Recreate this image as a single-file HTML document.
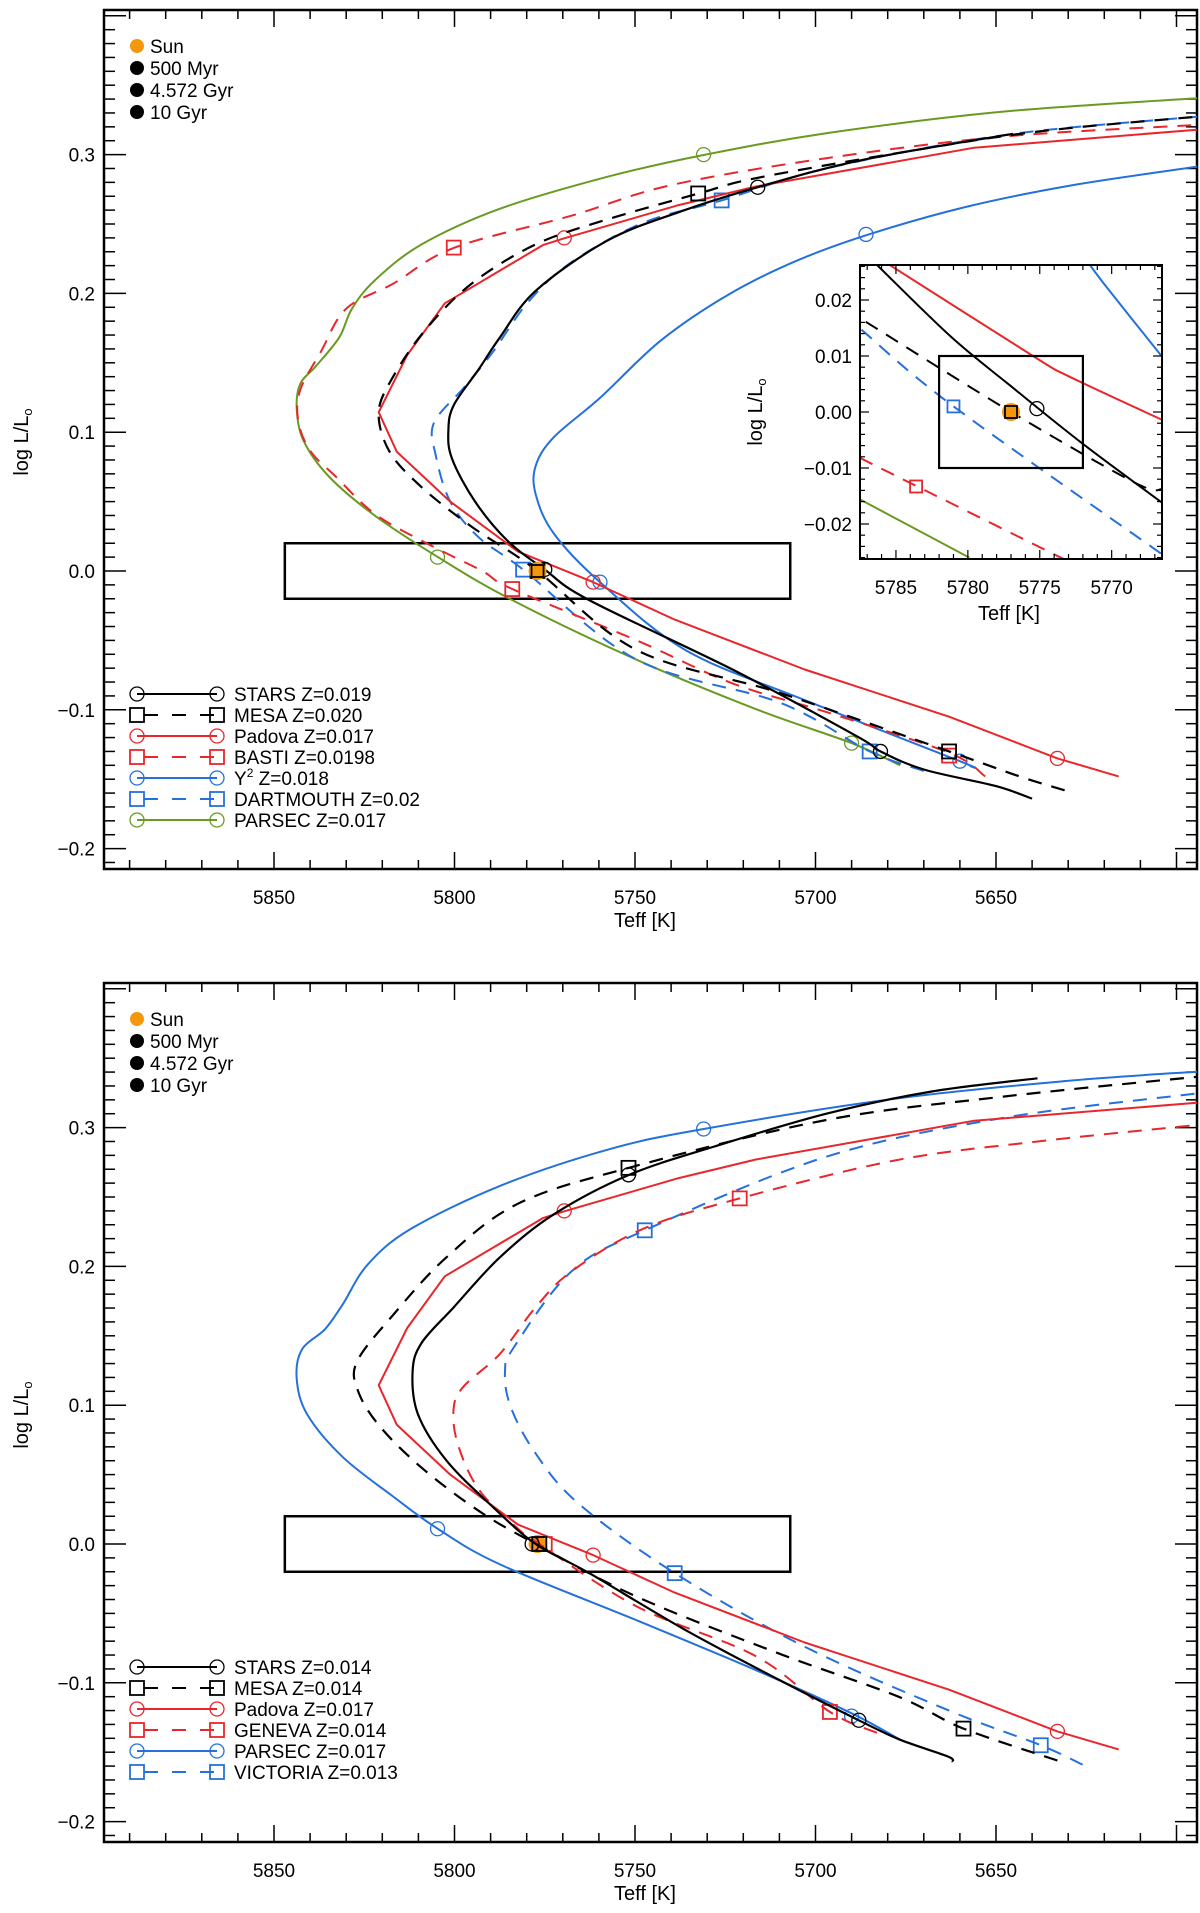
<!DOCTYPE html>
<html><head><meta charset="utf-8">
<style>
html,body{margin:0;padding:0;background:#fff;}
svg{display:block;font-family:"Liberation Sans",sans-serif;}
</style></head>
<body>
<svg id="fig" width="1200" height="1913" viewBox="0 0 1200 1913" xmlns="http://www.w3.org/2000/svg">
<defs>
<clipPath id="clipTop"><rect x="104" y="10" width="1093" height="859"/></clipPath>
<clipPath id="clipBot"><rect x="104" y="983" width="1093" height="859"/></clipPath>
<clipPath id="clipIn"><rect x="860" y="265" width="302" height="294"/></clipPath>
</defs>
</svg>
<script>
// ---------- DATA: top panel ----------
const starsTopT=[5640,5650,5670,5682,5688.6,5723,5762.7,5775,5785.4,5794.3,5800.7,5801.7,5800.2,5793.3,5787.4,5777.5,5757.7,5737.9,5716,5687.3,5645.3];
const starsTopL=[-0.164,-0.155,-0.143,-0.130,-0.119,-0.071,-0.021,0.001,0.022,0.050,0.081,0.1015,0.1195,0.1453,0.1684,0.2019,0.238,0.2585,0.2765,0.296,0.315];
const mesaTopT=[5631,5643.5,5663,5709.7,5749.5,5777.5,5795.3,5809.1,5818,5821,5817,5808.1,5795.3,5777.5,5757.7,5732.5,5716.5,5677.5,5638.5,5594];
const mesaTopL=[-0.158,-0.148,-0.130,-0.088,-0.057,0.001,0.032,0.0604,0.086,0.1144,0.140,0.1736,0.207,0.2353,0.2533,0.2719,0.283,0.301,0.3166,0.3274];
const padovaT=[5616,5633,5663,5703,5739,5761.6,5782.4,5801.2,5816,5821,5813.1,5802.7,5775.5,5769.6,5737.9,5716.5,5656,5594];
const padovaL=[-0.148,-0.135,-0.105,-0.071,-0.035,-0.008,0.014,0.050,0.086,0.1144,0.1556,0.1929,0.2348,0.2397,0.2636,0.277,0.305,0.318];
const bastiT=[5653,5663,5696.5,5723,5749.5,5784,5792.3,5807,5822,5832.9,5839.8,5843.2,5842.8,5837,5830,5817,5800.2,5767.6,5740,5697,5648,5594];
const bastiL=[-0.148,-0.131,-0.102,-0.081,-0.050,-0.013,0.0,0.019,0.041,0.0681,0.086,0.107,0.130,0.158,0.189,0.207,0.2328,0.256,0.278,0.2974,0.313,0.3214];
const y2T=[5657,5660,5703,5736,5759.7,5772.5,5777.5,5777.5,5772.5,5759.7,5742.9,5724,5704.8,5684.3,5658,5628.7,5594];
const y2L=[-0.141,-0.137,-0.093,-0.057,-0.008,0.027,0.0552,0.0758,0.0964,0.1247,0.1659,0.1993,0.224,0.2433,0.2625,0.278,0.2914];
const dartT=[5670,5685,5709.7,5749.5,5781,5793.3,5801.2,5805.2,5805.7,5797.3,5789.3,5779.5,5767.6,5747.8,5726,5697,5648,5594];
const dartL=[-0.144,-0.130,-0.095,-0.064,0.001,0.0243,0.050,0.0835,0.1067,0.1324,0.158,0.1941,0.2225,0.2508,0.267,0.29,0.314,0.3274];
const parsecTopT=[5676.6,5690,5716,5749.5,5784,5804.7,5822,5834.8,5841.8,5843.7,5842.7,5838.3,5831.9,5828.4,5822,5809.1,5787.4,5757.7,5731,5697,5648,5594];
const parsecTopL=[-0.140,-0.124,-0.100,-0.064,-0.021,0.0102,0.0398,0.0681,0.0938,0.117,0.135,0.1478,0.1684,0.189,0.2096,0.2353,0.261,0.284,0.2997,0.3154,0.331,0.3406];
// markers top (500 Myr, 4.572 Gyr, 10 Gyr)
const starsTopMT=[5682,5775,5716], starsTopML=[-0.130,0.0012,0.2765];
const mesaTopMT=[5663,5777,5732.5], mesaTopML=[-0.130,0.0,0.272];
const padovaMT=[5633,5761.6,5769.6], padovaML=[-0.135,-0.008,0.240];
const bastiMT=[5663,5784,5800.2], bastiML=[-0.133,-0.013,0.233];
const y2MT=[5660,5759.7,5686], y2ML=[-0.137,-0.008,0.2425];
const dartMT=[5685,5781,5726], dartML=[-0.130,0.001,0.267];
const parsecTopMT=[5690,5804.7,5731], parsecTopML=[-0.124,0.010,0.300];
// ---------- DATA: bottom panel ----------
const starsBotT=[5662,5663.4,5676.6,5688,5710,5736,5762.7,5777.5,5789.3,5802.2,5810.1,5811.6,5809.1,5800.2,5787.4,5772.5,5751.8,5728,5697,5667.8,5638.5];
const starsBotL=[-0.157,-0.153,-0.141,-0.127,-0.098,-0.062,-0.021,0.0,0.0265,0.06,0.0934,0.1243,0.1449,0.1706,0.2066,0.2375,0.2658,0.2864,0.3100,0.326,0.3355];
const mesaBotT=[5633,5659,5677,5710,5749.5,5777.5,5793.3,5809.1,5821,5826.9,5826.9,5817,5802.2,5782.4,5751.8,5697,5648,5594];
const mesaBotL=[-0.156,-0.133,-0.110,-0.079,-0.038,0.0,0.0239,0.055,0.0857,0.1115,0.132,0.165,0.2066,0.2452,0.271,0.3055,0.3223,0.3367];
const genevaT=[5683,5696,5716.4,5749.5,5776.5,5782.4,5793.3,5799.2,5800.2,5797.3,5787.4,5777.5,5767.6,5747.8,5721,5677.5,5638.5,5594];
const genevaL=[-0.136,-0.121,-0.081,-0.045,0.0,0.011,0.0394,0.073,0.0986,0.114,0.137,0.1706,0.1964,0.227,0.249,0.2766,0.29,0.302];
const parsecBotT=[5676.6,5690,5716.4,5749.5,5787.4,5804.7,5817,5830.9,5840.8,5843.7,5842.3,5835.8,5830.9,5824,5812.1,5787.4,5757.7,5731,5677.5,5628.7,5594];
const parsecBotL=[-0.141,-0.122,-0.091,-0.055,-0.0147,0.0111,0.0342,0.0625,0.0934,0.119,0.140,0.155,0.173,0.2015,0.227,0.258,0.284,0.299,0.321,0.334,0.3403];
const victT=[5626,5637.6,5663,5703,5739,5765.6,5777.5,5784.4,5786,5783.4,5767.6,5747.3,5697,5648,5594];
const victL=[-0.159,-0.145,-0.12,-0.074,-0.021,0.029,0.0651,0.0986,0.124,0.1423,0.1964,0.226,0.279,0.307,0.3247];
const starsBotMT=[5688,5778.5,5751.8], starsBotML=[-0.127,0.0,0.266];
const mesaBotMT=[5659,5776.5,5751.8], mesaBotML=[-0.133,0.0,0.271];
const genevaMT=[5696,5775,5721], genevaML=[-0.121,0.0,0.249];
const parsecBotMT=[5690,5804.7,5731], parsecBotML=[-0.124,0.011,0.299];
const victMT=[5637.6,5739,5747.3], victML=[-0.145,-0.021,0.226];
// ---------- DATA: inset ----------
const inStarsT=[5786.3,5781.2,5777,5772.1,5766.5], inStarsL=[0.0262,0.0135,0.0046,-0.0055,-0.0162];
const inPadovaT=[5785.4,5775.4,5773,5766.5], inPadovaL=[0.0262,0.0099,0.0064,-0.0014];
const inMesaT=[5787.1,5777,5768.4,5766.5], inMesaL=[0.0161,0,-0.0126,-0.0138];
const inDartT=[5787.4,5781,5766.5], inDartL=[0.0147,0.001,-0.0254];
const inBastiT=[5787.5,5783.6,5773.3], inBastiL=[-0.0082,-0.0132,-0.0263];
const inParsecT=[5787.5,5779.9], inParsecL=[-0.0156,-0.026];
const inY2T=[5771.5,5770.2,5766.5], inY2L=[0.0262,0.0218,0.0099];
const sunT=5777, sunL=0.0;
const xTickVals=[5850,5800,5750,5700,5650];
const yTickVals=[0.3,0.2,0.1,0.0,-0.1,-0.2];
const inXTickVals=[5785,5780,5775,5770];
const inYTickVals=[0.02,0.01,0.0,-0.01,-0.02];

const RED='#e8262b', BLUE='#2470dc', GREEN='#6a9a22', ORANGE='#f5960f';
const NS='http://www.w3.org/2000/svg';
const svg=document.getElementById('fig');
function X(t){return 274+(5850-t)*3.61;}
function makeY(off){return v=>571+off-v*1388;}
function IX(t){return 860+(5787.5-t)*(302/21);}
function IY(v){return 412-v*5600;}
function el(tag,attrs,parent){const e=document.createElementNS(NS,tag);for(const k in attrs)e.setAttribute(k,attrs[k]);(parent||svg).appendChild(e);return e;}
function path(T,L,fx,fy,color,dash,w,parent,name,linear){
  const P=T.map((t,i)=>[fx(t),fy(L[i])]);
  let d='M'+P[0][0].toFixed(1)+','+P[0][1].toFixed(1);
  for(let i=0;i<P.length-1;i++){
    if(linear){d+='L'+P[i+1][0].toFixed(1)+','+P[i+1][1].toFixed(1);continue;}
    const p0=P[Math.max(0,i-1)],p1=P[i],p2=P[i+1],p3=P[Math.min(P.length-1,i+2)];
    const c1=[p1[0]+(p2[0]-p0[0])/6,p1[1]+(p2[1]-p0[1])/6];
    const c2=[p2[0]-(p3[0]-p1[0])/6,p2[1]-(p3[1]-p1[1])/6];
    d+='C'+c1[0].toFixed(1)+','+c1[1].toFixed(1)+' '+c2[0].toFixed(1)+','+c2[1].toFixed(1)+' '+p2[0].toFixed(1)+','+p2[1].toFixed(1);
  }
  const p=el('path',{d:d,fill:'none',stroke:color,'stroke-width':w||2,'stroke-linejoin':'round'},parent);
  if(dash)p.setAttribute('stroke-dasharray',dash);
  
  
  return p;
}
function marker(x,y,type,color,parent,name,r){
  r=r||7;let m;
  if(type==='c')m=el('circle',{cx:x,cy:y,r:r,fill:'none',stroke:color,'stroke-width':1.3},parent);
  else m=el('rect',{x:x-r,y:y-r,width:2*r,height:2*r,fill:'none',stroke:color,'stroke-width':1.8},parent);
  
  
}
function text(x,y,s,anchor,size,parent,name,rot){
  const t=el('text',{x:x,y:y,'font-size':size||19,'text-anchor':anchor||'start',fill:'#000'},parent);
  t.textContent=s;if(rot)t.setAttribute('transform','rotate(-90 '+x+' '+y+')');
  
  
  return t;
}
function axes(off,prefix){
  const Y=makeY(off);const top=10+off,bot=869+off;
  const g=el('g',{});
  
  
  for(let t=5890;t>=5600;t-=10){const x=X(t);const maj=t%50===0;const L=maj?17:9;
    el('line',{x1:x,y1:bot,x2:x,y2:bot-L,stroke:'#000','stroke-width':1.5},g);
    el('line',{x1:x,y1:top,x2:x,y2:top+L,stroke:'#000','stroke-width':1.5},g);}
  for(let k=-21;k<=40;k++){const v=k/100;const y=Y(v);const maj=k%10===0;const L=maj?22:11;
    el('line',{x1:104,y1:y,x2:104+L,y2:y,stroke:'#000','stroke-width':1.5},g);
    el('line',{x1:1197,y1:y,x2:1197-L,y2:y,stroke:'#000','stroke-width':1.5},g);}
  el('rect',{x:104,y:top,width:1093,height:859,fill:'none',stroke:'#000','stroke-width':2.5},g);
  xTickVals.forEach(t=>text(X(t),bot+35,String(t),'middle',19,g,prefix+'-x-tick-label'));
  yTickVals.forEach(v=>text(95,Y(v)+7,(v<0?'\u2212':'')+Math.abs(v).toFixed(1),'end',19,g,prefix+'-y-tick-label'));
  text(645,bot+58,'Teff [K]','middle',20,g,prefix+'-x-axis-title');
  const yl=text(28,442+off,'','middle',20,g,prefix+'-y-axis-title',true);
  yl.innerHTML='log L/L<tspan font-size="13" dy="4">o</tspan>';
  const b=el('rect',{x:X(5847),y:Y(0.02),width:X(5707)-X(5847),height:Y(-0.02)-Y(0.02),fill:'none',stroke:'#000','stroke-width':2.5},g);
  
  
  const ages=[['Sun',ORANGE],['500 Myr','#000'],['4.572 Gyr','#000'],['10 Gyr','#000']];
  ages.forEach((a,i)=>{const yy=46+off+i*22;
    const c=el('circle',{cx:137,cy:yy,r:7,fill:a[1]},g);
    
    
    text(150,yy+7,a[0],'start',19,g,'age-legend-label');});
  return Y;
}
function legend(entries,off,prefix){
  entries.forEach((e,i)=>{const y=694+off+i*21;
    const g=el('g',{});
    
    
    const ln=el('line',{x1:137,y1:y,x2:217,y2:y,stroke:e.c,'stroke-width':2},g);
    if(e.d)ln.setAttribute('stroke-dasharray','14 14');
    ln.setAttribute('stroke-dashoffset','-7');
    marker(137,y,e.m,e.c,g,'legend-marker',7);marker(217,y,e.m,e.c,g,'legend-marker',7);
    const t=text(234,y+7,'','start',19,g,'legend-label');t.innerHTML=e.n;});
}
function drawSeries(list,clip,fx,fy,w){
  const g=el('g',{'clip-path':'url(#'+clip+')'});
  
  
  list.forEach(s=>{path(s.T,s.L,fx,fy,s.c,s.d?'14 10':null,s.w||2,g,s.name,s.lin);
    if(s.MT)s.MT.forEach((t,i)=>marker(fx(t),fy(s.ML[i]),s.m,s.c,g,s.name+'-age-marker'));});
  return g;
}
// ---- TOP ----
const YT=axes(0,'top');
const topSeries=[
 {T:parsecTopT,L:parsecTopL,MT:parsecTopMT,ML:parsecTopML,c:GREEN,m:'c',name:'parsec-track'},
 {T:y2T,L:y2L,MT:y2MT,ML:y2ML,c:BLUE,m:'c',name:'y2-track'},
 {T:dartT,L:dartL,MT:dartMT,ML:dartML,c:BLUE,d:1,m:'s',name:'dartmouth-track'},
 {T:bastiT,L:bastiL,MT:bastiMT,ML:bastiML,c:RED,d:1,m:'s',name:'basti-track'},
 {T:padovaT,L:padovaL,MT:padovaMT,ML:padovaML,c:RED,m:'c',name:'padova-track',lin:1},
 {T:mesaTopT,L:mesaTopL,MT:mesaTopMT,ML:mesaTopML,c:'#000',d:1,m:'s',name:'mesa-track',w:2.2},
 {T:starsTopT,L:starsTopL,MT:starsTopMT,ML:starsTopML,c:'#000',m:'c',name:'stars-track',w:2.2}];
const gT=drawSeries(topSeries,'clipTop',X,YT);
let s1=el('circle',{cx:X(sunT),cy:YT(sunL),r:9,fill:ORANGE},gT);


marker(X(5777),YT(0),'s','#000',gT,'mesa-4.572gyr-marker',6);
legend([
 {n:'STARS  Z=0.019',c:'#000',m:'c'},{n:'MESA  Z=0.020',c:'#000',m:'s',d:1},
 {n:'Padova  Z=0.017',c:RED,m:'c'},{n:'BASTI  Z=0.0198',c:RED,m:'s',d:1},
 {n:'Y<tspan font-size="12" dy="-8">2</tspan><tspan dy="8">  Z=0.018</tspan>',c:BLUE,m:'c'},
 {n:'DARTMOUTH  Z=0.02',c:BLUE,m:'s',d:1},{n:'PARSEC  Z=0.017',c:GREEN,m:'c'}],0,'top');
// ---- INSET ----
const ig=el('g',{});


el('rect',{x:860,y:265,width:302,height:294,fill:'#fff'},ig);
const inSeries=[
 {T:inParsecT,L:inParsecL,c:GREEN,name:'inset-parsec-track'},
 {T:inY2T,L:inY2L,c:BLUE,name:'inset-y2-track'},
 {T:inDartT,L:inDartL,c:BLUE,d:1,name:'inset-dartmouth-track'},
 {T:inBastiT,L:inBastiL,c:RED,d:1,name:'inset-basti-track'},
 {T:inPadovaT,L:inPadovaL,c:RED,name:'inset-padova-track'},
 {T:inMesaT,L:inMesaL,c:'#000',d:1,name:'inset-mesa-track'},
 {T:inStarsT,L:inStarsL,c:'#000',name:'inset-stars-track'}];
const gI=drawSeries(inSeries,'clipIn',IX,IY,2);
ig.appendChild(gI);
marker(IX(5781),IY(0.001),'s',BLUE,gI,'inset-dartmouth-marker',6);
marker(IX(5783.6),IY(-0.0133),'s',RED,gI,'inset-basti-marker',6);
marker(IX(5775.2),IY(0.0006),'c','#000',gI,'inset-stars-marker',7);
let s2=el('circle',{cx:IX(sunT),cy:IY(sunL),r:9,fill:ORANGE},gI);


marker(IX(5777),IY(0),'s','#000',gI,'inset-mesa-marker',6);
const ib=el('rect',{x:IX(5782),y:IY(0.01),width:IX(5772)-IX(5782),height:IY(-0.01)-IY(0.01),fill:'none',stroke:'#000','stroke-width':2.2},ig);


for(let t=5787;t>=5767;t--){const x=IX(t);const L=t%5===0?9:5;
 el('line',{x1:x,y1:559,x2:x,y2:559-L,stroke:'#000','stroke-width':1.2},ig);
 el('line',{x1:x,y1:265,x2:x,y2:265+L,stroke:'#000','stroke-width':1.2},ig);}
for(let k=-13;k<=13;k++){const v=k*0.002;const y=IY(v);const L=k%5===0?9:5;
 el('line',{x1:860,y1:y,x2:860+L,y2:y,stroke:'#000','stroke-width':1.2},ig);
 el('line',{x1:1162,y1:y,x2:1162-L,y2:y,stroke:'#000','stroke-width':1.2},ig);}
el('rect',{x:860,y:265,width:302,height:294,fill:'none',stroke:'#000','stroke-width':2},ig);
inXTickVals.forEach(t=>text(IX(t),594,String(t),'middle',19,ig,'inset-x-tick-label'));
inYTickVals.forEach(v=>text(852,IY(v)+7,(v<0?'\u2212':'')+Math.abs(v).toFixed(2),'end',19,ig,'inset-y-tick-label'));
text(1009,620,'Teff [K]','middle',20,ig,'inset-x-axis-title');
const iyl=text(762,412,'','middle',20,ig,'inset-y-axis-title',true);
iyl.innerHTML='log L/L<tspan font-size="13" dy="4">o</tspan>';
// ---- BOTTOM ----
const OFF=973;
const YB=axes(OFF,'bottom');
const botSeries=[
 {T:parsecBotT,L:parsecBotL,MT:parsecBotMT,ML:parsecBotML,c:BLUE,m:'c',name:'parsec-track'},
 {T:victT,L:victL,MT:victMT,ML:victML,c:BLUE,d:1,m:'s',name:'victoria-track'},
 {T:genevaT,L:genevaL,MT:genevaMT,ML:genevaML,c:RED,d:1,m:'s',name:'geneva-track'},
 {T:padovaT,L:padovaL,MT:padovaMT,ML:padovaML,c:RED,m:'c',name:'padova-track',lin:1},
 {T:mesaBotT,L:mesaBotL,MT:mesaBotMT,ML:mesaBotML,c:'#000',d:1,m:'s',name:'mesa-track',w:2.2},
 {T:starsBotT,L:starsBotL,MT:starsBotMT,ML:starsBotML,c:'#000',m:'c',name:'stars-track',w:2.2}];
const gB=drawSeries(botSeries,'clipBot',X,YB);
let s3=el('circle',{cx:X(sunT),cy:YB(sunL),r:9,fill:ORANGE},gB);


gB.insertBefore(s3,gB.firstChild);
legend([
 {n:'STARS  Z=0.014',c:'#000',m:'c'},{n:'MESA  Z=0.014',c:'#000',m:'s',d:1},
 {n:'Padova  Z=0.017',c:RED,m:'c'},{n:'GENEVA  Z=0.014',c:RED,m:'s',d:1},
 {n:'PARSEC  Z=0.017',c:BLUE,m:'c'},{n:'VICTORIA  Z=0.013',c:BLUE,m:'s',d:1}],OFF,'bottom');
</script>
</body></html>
